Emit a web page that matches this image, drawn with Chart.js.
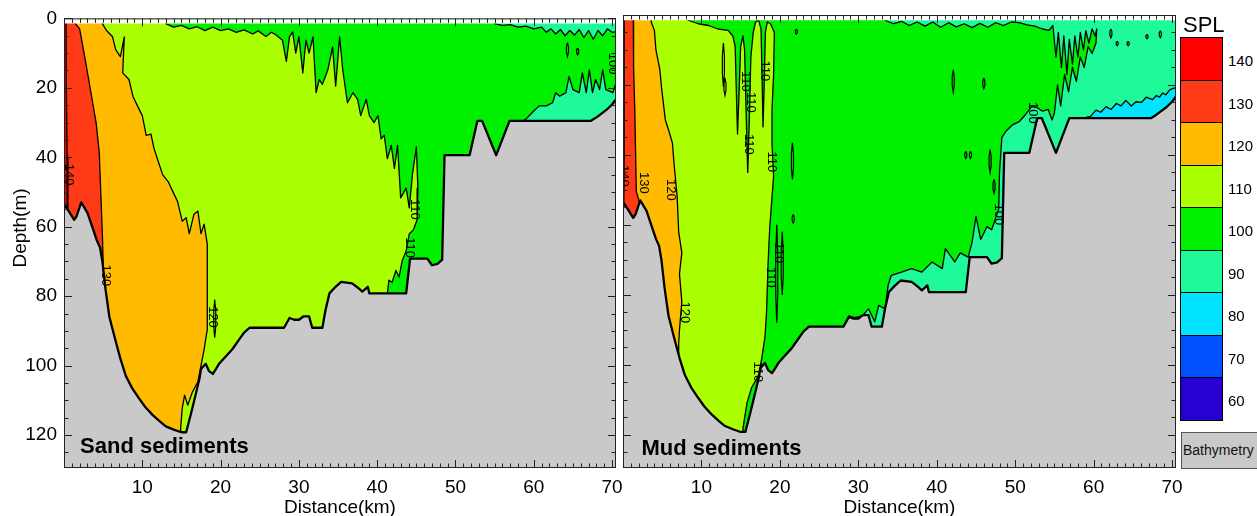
<!DOCTYPE html>
<html>
<head>
<meta charset="utf-8">
<script src="https://cdn.jsdelivr.net/npm/chart.js@4.4.1/dist/chart.umd.min.js"></script>
<style>
  body { margin: 0; width: 1257px; height: 516px; overflow: hidden; position: relative; background: #fff;
         font-family: 'Liberation Sans', Arial, Helvetica, sans-serif; }
  canvas { position: absolute; top: 0; }
  #sand { left: 0; }
  #mud { left: 618px; }
  #spl { position: absolute; left: 1183px; top: 12px; font-size: 22px; color: #000; }
  #colorbar { position: absolute; left: 1180px; top: 37px; width: 41px; border: 1px solid #000; }
  #colorbar div { height: 41.5px; border-bottom: 1px solid #000; }
  #colorbar div:last-child { border-bottom: none; }
  .lv { position: absolute; left: 1228px; font-size: 15px; color: #000; }
  #bathy { position: absolute; left: 1181px; top: 432px; width: 80px; height: 35px; background: #c9c9c9;
           border: 1px solid #555; font-size: 14px; line-height: 35px; padding-left: 1px; color: #111; white-space: nowrap; }
</style>
</head>
<body>
<canvas id="sand" width="640" height="516"></canvas>
<canvas id="mud" width="590" height="516"></canvas>
<div id="spl">SPL</div>
<div id="colorbar"></div>
<div id="bathy">Bathymetry</div>
<script>
const FONT = "'Liberation Sans', Arial, Helvetica, sans-serif";
const xMax = 70.5, depthMax = 129.5;
const distTicks = [10, 20, 30, 40, 50, 60, 70];
const depthTicks = [0, 20, 40, 60, 80, 100, 120];

// SPL bins of the colour scale (dB)
const levels = [140, 130, 120, 110, 100, 90, 80, 70, 60];
const levelColors = ['#ff0000', '#ff3a16', '#ffbb00', '#aaff00', '#00f000', '#1efa9a', '#00e4ff', '#0050ff', '#2800d2'];
const bathyColor = '#c9c9c9';
const colorOf = lv => levelColors[levels.indexOf(lv)];

// bathymetry along the transect (km, m) - same for both runs
const seabedKm = [-1, 0, 0.6, 1.3, 1.6, 2.2, 3.0, 3.6, 4.2, 4.6, 4.9, 5.3, 5.8, 6.6, 7.2, 7.9, 8.7, 9.6, 10.4, 11.3, 12.2, 13.0, 14.1, 15.0, 15.6, 16.2, 16.8, 17.3, 17.5, 18.1, 18.5, 19.0, 19.4, 19.8, 20.6, 21.5, 22.4, 23.0, 23.7, 28.1, 28.8, 29.4, 30.0, 30.6, 31.3, 31.7, 33.0, 33.4, 33.9, 34.6, 35.4, 36.8, 37.5, 38.1, 38.8, 39.0, 43.7, 44.2, 46.4, 47.0, 47.7, 48.3, 48.6, 51.8, 52.8, 53.4, 55.2, 56.9, 67.3, 68.0, 68.6, 69.3, 70.0, 70.5, 71.5];
const seabedDepth = [53.5, 53.5, 55.5, 58, 57, 53, 56, 60, 64, 66, 70, 78, 86, 93, 98, 103, 106.5, 109.5, 112, 114.2, 116, 117.5, 118.5, 119.2, 119.2, 114, 108.5, 103.8, 101, 99.5, 101.5, 102.4, 101, 99.5, 97.5, 95.3, 92.4, 90.5, 89.1, 89.1, 86.3, 86.8, 86.8, 85.8, 85.8, 89.1, 89.1, 84, 79.2, 77.5, 75.9, 76.3, 77.5, 78.7, 77.3, 79.2, 79.2, 69.2, 69.2, 71.1, 70.7, 69.5, 39.4, 39.4, 29.5, 29.5, 39.4, 29.5, 29.5, 28.5, 27.5, 26.3, 24.8, 23.3, 22];

// ---- Sand sediments: areas where SPL >= level (km, depth m) ----
const sand90Km = [-1, 71.5, 71.5, -1];
const sand90Depth = [-5, -5, 140, 140];
const sand100Km = [-1, 55.0, 55.0, 56.0, 57.0, 58.0, 59.0, 60.0, 61.0, 61.6, 62.2, 62.8, 63.4, 64.0, 64.6, 65.2, 65.8, 66.4, 67.0, 67.6, 68.2, 68.8, 69.4, 70.0, 71.5, 71.5, 70.5, 70.1, 69.2, 68.8, 68.4, 67.9, 67.5, 67.1, 66.7, 66.2, 65.8, 65.0, 64.5, 64.1, 63.3, 62.8, 62.4, 61.6, 60.7, 59.8, 59.0, 58.6, 58.4, 58.4, -1];
const sand100Depth = [-5, -5, 1.5, 2, 1.8, 2.5, 2.2, 3, 2.5, 4, 3, 4.5, 3.2, 5, 3.5, 4.8, 3.2, 5.5, 3.5, 6, 3.5, 5, 3, 4, 3.5, 18.6, 18.6, 21.4, 20.5, 14.8, 20.5, 17.6, 21.4, 14.8, 21.4, 15.7, 21.4, 20.5, 16.7, 21.4, 22.4, 21.4, 24.3, 25.2, 25.2, 27.1, 29, 29.5, 35, 140, 140];
const sand110Km = [-1, 13.0, 13.0, 14, 15, 16, 17, 18, 19, 20, 21, 22, 23, 24.1, 24.8, 25.8, 26.5, 27.1, 27.9, 28.4, 28.8, 29.2, 29.6, 30.0, 30.5, 30.9, 31.3, 31.8, 32.2, 32.6, 33.0, 33.7, 34.3, 34.7, 35.2, 35.6, 36.2, 36.9, 37.5, 37.9, 38.6, 39.0, 39.6, 40.1, 40.5, 40.9, 41.3, 41.8, 42.2, 42.6, 43.0, 43.7, 44.1, 44.5, 45.0, 45.2, 45.1, 44.6, 44.1, 43.7, 43.2, 42.8, 42.4, 41.9, 41.5, 41.3, 41.3, -1];
const sand110Depth = [-5, -5, 1.5, 2.5, 2, 3, 2.4, 3.5, 2.5, 3.5, 3, 4, 3.3, 4.5, 3.6, 5.2, 4, 4.8, 6.3, 12.4, 5.3, 3.9, 10, 5.3, 15.7, 6.3, 10, 5.3, 21.4, 17.6, 19, 14.8, 8.2, 19.5, 5.3, 14.8, 24.3, 21.4, 23.3, 28, 23.3, 28, 30, 28, 34.7, 33.7, 40.4, 36.6, 43.2, 36.6, 51.7, 48.9, 54.6, 45, 37, 49, 58, 61, 62, 67, 69.7, 74.5, 72.6, 76, 75.4, 79.2, 140, 140];
const sand120Km = [-1, 4.5, 4.5, 5.4, 6.2, 6.6, 7.2, 7.7, 7.5, 8.3, 8.8, 9.6, 10.0, 10.5, 11.1, 11.5, 12.2, 12.6, 13.3, 13.9, 14.5, 15.1, 15.6, 16.0, 16.6, 17.1, 17.5, 17.9, 18.3, 18.3, 18.3, 17.9, 17.5, 17.1, 16.4, 15.8, 15.4, 15.1, 14.9, 14.8, -1];
const sand120Depth = [-5, -5, 0, 3.4, 5.3, 9, 11, 5.3, 15.7, 17.6, 22.4, 26.2, 28, 33.7, 33.3, 37.5, 42.3, 45, 47, 49.9, 52.7, 58.4, 57.4, 62, 56.4, 55.5, 62, 59.3, 65, 70, 89.6, 95.3, 100, 104.7, 107.6, 111.4, 108.5, 112.3, 118, 140, 140];
const sand130Km = [-1, 0.9, 0.9, 2.0, 2.8, 4.1, 4.5, 4.9, 5.1, 5.1, -1];
const sand130Depth = [-5, -5, 0, 3, 13, 30, 38.5, 62, 78, 140, 140];
const sand140Km = [-1, 0.25, 0.3, 0.4, 0.5, 0.5, -1];
const sand140Depth = [-5, -5, 20, 40, 54, 140, 140];
// closed contours: [km, top depth, bottom depth]
const sandIslands = [[19.25, 81, 92], [64.3, 7, 11], [65.6, 8.5, 10.5]];
// contour labels: [km, depth, text]
const sandLabels = [[0.6, 45, '140'], [5.3, 74, '130'], [19.0, 86, '120'], [44.8, 55, '110'], [44.2, 66, '110'], [70.0, 13, '100']];

// ---- Mud sediments ----
const mud80Km = [-1, 71.5, 71.5, -1];
const mud80Depth = [-5, -5, 140, 140];
const mud90Km = [-1, 71.5, 71.5, 70.5, 70.1, 69.7, 69.2, 68.8, 68.4, 68.0, 67.5, 66.7, 66.1, 65.4, 64.8, 64.1, 63.5, 62.9, 62.2, 61.6, 60.9, 60.3, 59.6, 59.0, 58.8, 58.8, -1];
const mud90Depth = [-5, -5, 20.5, 20.8, 21, 21.4, 22.8, 22.3, 23.5, 23, 24.2, 23.5, 25, 24.8, 26, 24.4, 26, 25.3, 27, 26.2, 27.8, 27.2, 29, 29.3, 30, 140, 140];
const mud100Km = [-1, 33.4, 33.4, 34.5, 35.5, 36.5, 37.5, 38.5, 39.5, 40.5, 41.5, 42.5, 43.5, 44.5, 45.5, 46.5, 47.5, 48.5, 49.5, 50.5, 51.5, 52.5, 53.5, 54.3, 54.8, 55.2, 55.5, 55.9, 56.2, 56.6, 56.9, 57.3, 57.6, 58.0, 58.3, 58.7, 59.0, 59.4, 59.8, 60.2, 60.4, 60.3, 59.8, 59.3, 58.8, 58.3, 57.8, 57.3, 56.8, 56.3, 55.8, 55.4, 55.0, 54.7, 54.2, 53.5, 52.8, 52.1, 51.3, 50.5, 49.6, 48.9, 48.3, 48.0, 47.9, 47.0, 46.4, 45.6, 45.0, 44.5, 44.0, 43.0, 42.3, 41.1, 40.7, 39.4, 38.1, 36.8, 35.5, 34.2, 33.8, 33.4, 32.6, 32.1, 31.3, 30.5, 29.5, 28.8, 28.3, 28.3, -1];
const mud100Depth = [-5, -5, 1.5, 2.5, 1.8, 3, 2, 3.2, 2, 3.5, 2.2, 3.4, 2.5, 3.6, 2.4, 3.5, 2.2, 3, 2, 2.2, 2.8, 3.2, 4, 4.4, 3, 12, 5, 15, 6, 17, 7, 14, 6, 12, 5, 10, 4.5, 8, 4, 6, 4, 8, 11, 9, 15, 12, 19, 15, 22, 17, 26, 20, 28, 30, 27, 27.5, 26.5, 26.2, 28.5, 30.5, 31.5, 33, 35, 45, 55.5, 61.4, 60.5, 64.2, 57.6, 65, 69.2, 68, 70.6, 66.8, 72.5, 70.6, 73.5, 72.5, 73.5, 74.4, 77.3, 84, 83, 87.7, 84, 86, 86.5, 86, 88.5, 140, 140];
const mud110Km = [-1, 8.3, 8.3, 9.6, 10.9, 12.1, 13.4, 14.0, 14.3, 14.45, 14.6, 14.8, 15.0, 15.3, 15.5, 15.7, 15.9, 16.1, 16.3, 16.6, 16.9, 17.3, 17.6, 17.75, 17.85, 18.0, 18.15, 18.4, 18.8, 19.3, 19.2, 19.0, 19.0, 19.2, 18.9, 18.7, 18.5, 18.3, 18.1, 17.7, 17.3, 16.4, 15.8, 15.3, 15.3, -1];
const mud110Depth = [-5, -5, 1.5, 2.5, 3, 4, 4.4, 6, 9, 22, 34, 22, 9, 6, 10, 28, 45, 30, 12, 5, 2, 1.5, 4, 20, 32, 20, 5, 2, 2.5, 5, 17, 27, 37, 46, 55, 61, 71, 85, 92, 98, 103, 106.5, 111, 118, 140, 140];
const mud120Km = [-1, 3.6, 3.6, 4.0, 4.2, 4.7, 4.9, 5.2, 5.4, 5.8, 6.3, 6.5, 6.9, 7.1, 7.5, 7.2, 7.5, 7.2, 7.1, 7.1, -1];
const mud120Depth = [-5, -5, 2, 4.4, 10, 15.7, 20.5, 26.2, 30, 32.8, 36.6, 42.3, 51.8, 62, 68, 74, 82, 90, 94, 140, 140];
const mud130Km = [-1, 1.3, 1.3, 1.4, 1.5, 1.7, 2.1, 2.1, -1];
const mud130Depth = [-5, -5, 2, 15, 27, 50.5, 53.5, 140, 140];
const mud140Km = [-1, 0.15, 0.15, 0.1, 0.1, -1];
const mud140Depth = [-5, -5, 40, 54, 140, 140];
const mudIslands = [[12.8, 8, 20.5], [13.0, 18, 23], [19.6, 60, 88], [20.3, 62, 80], [21.6, 36.5, 47], [21.7, 57, 59.5],
  [22.1, 4, 5.5], [42.1, 15.7, 22], [46.0, 18, 21], [43.7, 39, 41], [44.3, 39, 41], [46.8, 38.5, 45], [47.3, 47, 51],
  [62.2, 4, 6.5], [63.0, 7.5, 8.8], [64.4, 7.5, 8.8], [66.8, 5.5, 6.8], [68.5, 4.5, 6.5]];
const mudLabels = [[0.1, 46, '140'], [2.6, 48, '130'], [6.1, 50, '120'], [7.8, 85, '120'], [15.6, 19, '110'], [16.3, 25, '110'],
  [16.0, 37, '110'], [18.1, 16, '110'], [18.9, 42, '110'], [18.8, 75, '110'], [19.8, 68, '110'], [17.2, 102, '110'],
  [52.2, 28, '100'], [47.9, 57, '100']];

function toPoints(km, depth) {
  return km.map((x, i) => ({x, y: depth[i]}));
}

function area(km, depth, color, edge) {
  return {
    data: toPoints(km, depth), showLine: true, fill: 'shape', backgroundColor: color,
    borderColor: edge ? '#000' : 'rgba(0,0,0,0)', borderWidth: edge ? 1.3 : 0.01,
    borderJoinStyle: 'round', pointRadius: 0, clip: 0
  };
}

// thin closed contour drawn as a narrow loop
function island([km, top, bottom]) {
  const w = 0.13, h = bottom - top;
  const xs = [km, km + w, km + w, km, km - w, km - w, km];
  const ds = [top, top + 0.3 * h, bottom - 0.3 * h, bottom, bottom - 0.3 * h, top + 0.3 * h, top];
  return {
    data: toPoints(xs, ds), showLine: true, fill: false, borderColor: '#000', borderWidth: 1.2,
    pointRadius: 0, clip: 0
  };
}

function seabedLayers() {
  return [
    area(seabedKm.concat([71.5, -1]), seabedDepth.concat([140, 140]), bathyColor, false),
    {data: toPoints(seabedKm, seabedDepth), showLine: true, fill: false, borderColor: '#000',
     borderWidth: 2.3, borderJoinStyle: 'round', pointRadius: 0, clip: 0}
  ];
}

const topBand = area([-1, 71.5, 71.5, -1], [-5, -5, 1.5, 1.5], '#ffffff', false);

const annotate = {
  id: 'annotate',
  afterDatasetsDraw(chart, args, opts) {
    const {ctx, chartArea: a, scales: {x, y}} = chart;
    ctx.save();
    ctx.beginPath();
    ctx.rect(a.left, a.top, a.width, a.height);
    ctx.clip();
    ctx.fillStyle = '#000';
    ctx.font = '13px ' + FONT;
    ctx.textAlign = 'center';
    ctx.textBaseline = 'middle';
    for (const [km, d, t] of opts.labels) {
      ctx.save();
      ctx.translate(x.getPixelForValue(km), y.getPixelForValue(d));
      ctx.rotate(Math.PI / 2);
      ctx.fillText(t, 0, 0);
      ctx.restore();
    }
    ctx.font = 'bold 22px ' + FONT;
    ctx.textAlign = 'left';
    ctx.textBaseline = 'alphabetic';
    ctx.fillText(opts.name, x.getPixelForValue(opts.nameAt[0]), y.getPixelForValue(opts.nameAt[1]));
    ctx.restore();
  }
};

// inward ticks on all four sides plus the frame
const frameTicks = {
  id: 'frameTicks',
  afterDraw(chart, args, opts) {
    const {ctx, chartArea: a, scales: {x, y}} = chart;
    ctx.save();
    ctx.strokeStyle = '#222';
    ctx.lineWidth = 1;
    ctx.beginPath();
    for (let v = 0; v <= xMax; v += 1) {
      const px = Math.round(x.getPixelForValue(v)) + 0.5;
      const len = v % 10 === 0 ? 8 : 4.5;
      ctx.moveTo(px, a.bottom); ctx.lineTo(px, a.bottom - len);
      ctx.moveTo(px, a.top); ctx.lineTo(px, a.top + len);
    }
    for (let v = 0; v <= depthMax; v += 5) {
      const py = Math.round(y.getPixelForValue(v)) + 0.5;
      const len = v % 20 === 0 ? 8 : 4.5;
      ctx.moveTo(a.left, py); ctx.lineTo(a.left + len, py);
      ctx.moveTo(a.right, py); ctx.lineTo(a.right - len, py);
    }
    ctx.stroke();
    ctx.strokeRect(a.left + 0.5, a.top + 0.5, a.width - 1, a.height - 1);
    if (opts.yTitle) {
      ctx.fillStyle = '#000';
      ctx.font = '19px ' + FONT;
      ctx.textAlign = 'center';
      ctx.textBaseline = 'middle';
      ctx.translate(21, 228);
      ctx.rotate(-Math.PI / 2);
      ctx.fillText(opts.yTitle, 0, 0);
    }
    ctx.restore();
  }
};

function makePanel(id, layers, islands, labels, name, nameAt, yWidth, padRight, yTitle) {
  const datasets = layers.concat(islands.map(island), [topBand], seabedLayers());
  datasets.forEach((d, i) => { d.order = -i; });
  return new Chart(document.getElementById(id), {
    type: 'scatter',
    data: {datasets},
    options: {
      responsive: false, animation: false, devicePixelRatio: 1,
      layout: {padding: {left: 0, top: 15, right: padRight, bottom: 0}},
      plugins: {
        legend: {display: false}, tooltip: {enabled: false},
        annotate: {labels, name, nameAt},
        frameTicks: {yTitle}
      },
      scales: {
        x: {
          type: 'linear', min: 0, max: xMax,
          afterBuildTicks: s => { s.ticks = distTicks.map(v => ({value: v})); },
          afterFit: s => { s.height = 48; },
          grid: {display: false, drawTicks: false},
          border: {display: false},
          ticks: {color: '#000', font: {size: 19, family: FONT}, padding: 8, maxRotation: 0, autoSkip: false},
          title: {display: true, text: 'Distance(km)', color: '#000', font: {size: 19, family: FONT, lineHeight: 1}, padding: {top: 0, bottom: -1}}
        },
        y: {
          type: 'linear', reverse: true, min: 0, max: depthMax,
          afterBuildTicks: s => { s.ticks = depthTicks.map(v => ({value: v})); },
          afterFit: s => { s.width = yWidth; },
          grid: {display: false, drawTicks: false},
          border: {display: false},
          ticks: {display: yWidth > 20, color: '#000', font: {size: 19, family: FONT}, padding: 7}
        }
      }
    },
    plugins: [annotate, frameTicks]
  });
}

makePanel('sand', [
  area(sand90Km, sand90Depth, colorOf(90), false),
  area(sand100Km, sand100Depth, colorOf(100), true),
  area(sand110Km, sand110Depth, colorOf(110), true),
  area(sand120Km, sand120Depth, colorOf(120), true),
  area(sand130Km, sand130Depth, colorOf(130), true),
  area(sand140Km, sand140Depth, colorOf(140), true)
], sandIslands, sandLabels, 'Sand sediments', [2.05, 125.1], 64, 24, 'Depth(m)');

makePanel('mud', [
  area(mud80Km, mud80Depth, colorOf(80), false),
  area(mud90Km, mud90Depth, colorOf(90), true),
  area(mud100Km, mud100Depth, colorOf(100), true),
  area(mud110Km, mud110Depth, colorOf(110), true),
  area(mud120Km, mud120Depth, colorOf(120), true),
  area(mud130Km, mud130Depth, colorOf(130), true),
  area(mud140Km, mud140Depth, colorOf(140), true)
], mudIslands, mudLabels, 'Mud sediments', [2.35, 125.7], 5, 32, null);

// colour scale
const bar = document.getElementById('colorbar');
levels.forEach((lv, i) => {
  const cell = document.createElement('div');
  cell.style.background = levelColors[i];
  bar.appendChild(cell);
  const lab = document.createElement('div');
  lab.className = 'lv';
  lab.textContent = lv;
  lab.style.top = (37 + i * 42.5 + 15) + 'px';
  document.body.appendChild(lab);
});
</script>
</body>
</html>
